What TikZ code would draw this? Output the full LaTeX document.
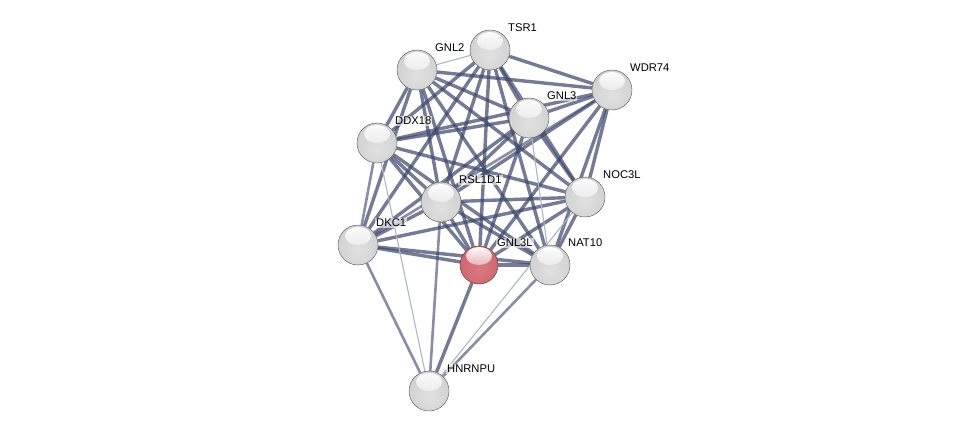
\documentclass[tikz,border=0pt]{standalone}
\usepackage{fontspec}
\setmainfont{Liberation Sans}
\usepackage{tikz}
\usetikzlibrary{calc,backgrounds,fadings}
\definecolor{EdgeSlate}{RGB}{62,72,110}
\definecolor{EdgeLight}{RGB}{175,180,200}
\definecolor{BallRed}{RGB}{205,88,94}

\pgfdeclareradialshading{protball}{\pgfpoint{0bp}{-8bp}}{%
  color(0bp)=(white!88!black); color(28bp)=(white!82!black);
  color(44bp)=(white!76!black); color(52bp)=(white!55!black);
  color(60bp)=(white!42!black)}
\pgfdeclareradialshading{queryball}{\pgfpoint{0bp}{-8bp}}{%
  color(0bp)=(BallRed!80!white); color(28bp)=(BallRed!92!white);
  color(44bp)=(BallRed); color(52bp)=(BallRed!60!black);
  color(60bp)=(BallRed!45!black)}

\tikzset{
  protein/.style={circle,minimum size=40pt,inner sep=0pt,shading=protball,
                  draw=gray!65!black,line width=0.4pt,
                  path picture={\fill[white,path fading=south]
                    ($(path picture bounding box.center)+(0,9pt)$)
                    ellipse (13pt and 9pt);}},
  query/.style={protein,shading=queryball,draw=BallRed!45!black},
  plabel/.style={anchor=west,inner sep=1pt,fill=white,fill opacity=0.6,
                 text opacity=1,font=\fontsize{11.2}{13}\selectfont},
  strong/.style={draw=EdgeSlate,line width=3.4pt,opacity=0.72},
  medium/.style={draw=EdgeSlate,line width=2.6pt,opacity=0.62},
  weak/.style={draw=EdgeLight,line width=1.1pt}
}

\begin{document}
\begin{tikzpicture}[x=1pt,y=1pt]
  \useasboundingbox (0,0) rectangle (975,437);

  % proteins
  \node[protein] (tsr1)   at (490,387) {};
  \node[protein] (gnl2)   at (417,367) {};
  \node[protein] (wdr74)  at (612,347) {};
  \node[protein] (gnl3)   at (529,319) {};
  \node[protein] (ddx18)  at (377,294) {};
  \node[protein] (rsl1d1) at (441,235) {};
  \node[protein] (noc3l)  at (585,240) {};
  \node[protein] (dkc1)   at (358,192) {};
  \node[query,minimum size=38pt] (gnl3l) at (479,172) {};
  \node[protein] (nat10)  at (550,172) {};
  \node[protein] (hnrnpu) at (429,46) {};

  % names
  \foreach \p/\t in {tsr1/TSR1,gnl2/GNL2,wdr74/WDR74,gnl3/GNL3,ddx18/DDX18,
                     rsl1d1/RSL1D1,noc3l/NOC3L,dkc1/DKC1,gnl3l/GNL3L,
                     nat10/NAT10,hnrnpu/HNRNPU}
    \node[plabel] (\p-name) at ($(\p)+(17,22)$) {\t};

  % interactions
  \begin{scope}[on background layer]
    \foreach \a/\b in {tsr1/wdr74,tsr1/gnl3,tsr1/ddx18,tsr1/rsl1d1,tsr1/noc3l,
                       tsr1/dkc1,tsr1/gnl3l,tsr1/nat10,
                       gnl2/wdr74,gnl2/gnl3,gnl2/ddx18,gnl2/rsl1d1,gnl2/noc3l,
                       gnl2/dkc1,gnl2/gnl3l,gnl2/nat10,
                       wdr74/gnl3,wdr74/ddx18,wdr74/rsl1d1,wdr74/noc3l,
                       wdr74/gnl3l,wdr74/nat10,
                       gnl3/ddx18,gnl3/rsl1d1,gnl3/noc3l,gnl3/dkc1,gnl3/gnl3l,
                       ddx18/rsl1d1,ddx18/noc3l,ddx18/gnl3l,ddx18/nat10,
                       rsl1d1/noc3l,rsl1d1/dkc1,rsl1d1/gnl3l,rsl1d1/nat10,
                       noc3l/dkc1,noc3l/gnl3l,noc3l/nat10,
                       dkc1/gnl3l,dkc1/nat10,gnl3l/nat10,
                       hnrnpu/gnl3l}
      \draw[strong] (\a) -- (\b);
    \foreach \a/\b in {ddx18/dkc1,wdr74/dkc1,hnrnpu/dkc1,hnrnpu/rsl1d1,
                       hnrnpu/nat10}
      \draw[medium] (\a) -- (\b);
    \foreach \a/\b in {gnl2/tsr1,gnl3/nat10,hnrnpu/ddx18,hnrnpu/noc3l}
      \draw[weak] (\a) -- (\b);
  \end{scope}
\end{tikzpicture}
\end{document}
